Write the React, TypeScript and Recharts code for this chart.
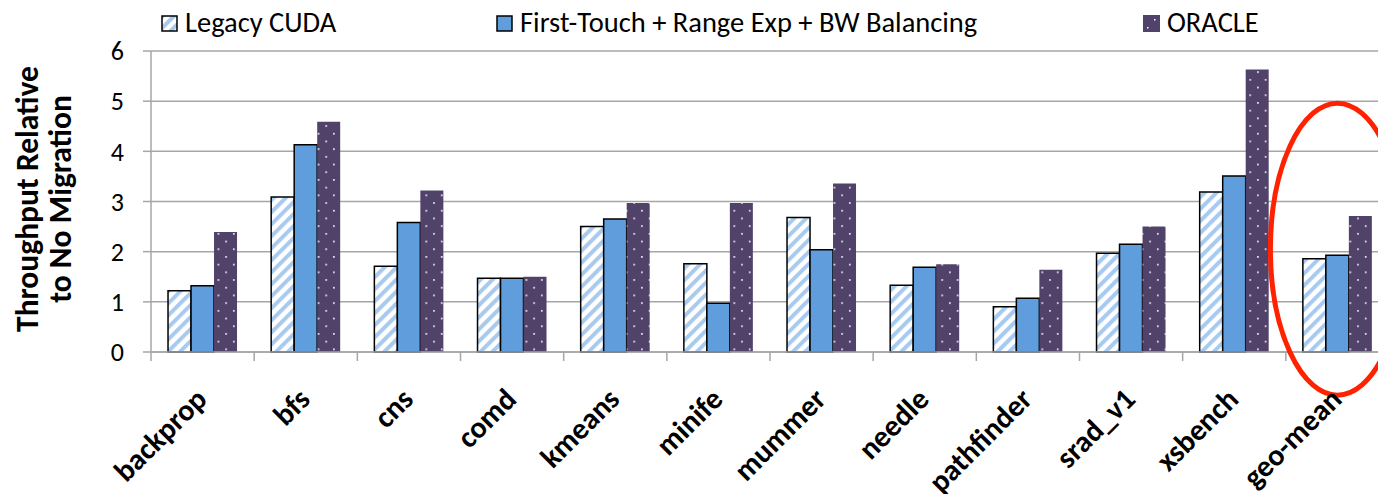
import React from 'react';
import { BarChart, Bar, XAxis, YAxis, CartesianGrid, Legend, ReferenceDot } from 'recharts';

const categories = ['backprop', 'bfs', 'cns', 'comd', 'kmeans', 'minife', 'mummer', 'needle', 'pathfinder', 'srad_v1', 'xsbench', 'geo-mean'];
const legacyCuda = [1.22, 3.09, 1.71, 1.47, 2.50, 1.76, 2.68, 1.33, 0.90, 1.97, 3.19, 1.86];
const firstTouch = [1.32, 4.13, 2.58, 1.47, 2.65, 0.97, 2.04, 1.69, 1.07, 2.15, 3.51, 1.93];
const oracle = [2.39, 4.59, 3.22, 1.50, 2.97, 2.97, 3.36, 1.75, 1.64, 2.50, 5.63, 2.71];
const yTicks = [0, 1, 2, 3, 4, 5, 6];
const seriesNames = ['Legacy CUDA', 'First-Touch + Range Exp + BW Balancing', 'ORACLE'];
const highlightCategory = 'geo-mean';
const highlightValue = 2.05;

const data = categories.map((c, i) => ({
  name: c,
  legacy: legacyCuda[i],
  first: firstTouch[i],
  oracle: oracle[i],
}));

const W = 1378;
const H = 494;
const LEFT = 151;
const RIGHT = -11;
const FONT = 'Carlito, "Open Sans", sans-serif';
const BLUE = '#5f9ddc';
const STRIPE = '#a8caee';
const PURPLE = '#51426a';
const GRID = '#a6a6a6';
const bandHalf = (W - LEFT - RIGHT) / categories.length / 2;

const XTick = (props: any) => {
  const { x, y, payload, index } = props;
  return (
    <g>
      <line x1={x - bandHalf} x2={x - bandHalf} y1={y} y2={y + 9} stroke={GRID} strokeWidth={1.5} />
      {index === categories.length - 1 && (
        <line x1={x + bandHalf} x2={x + bandHalf} y1={y} y2={y + 9} stroke={GRID} strokeWidth={1.5} />
      )}
      <text
        x={x + 6}
        y={y + 49}
        textAnchor="end"
        transform={`rotate(-45, ${x + 6}, ${y + 49})`}
        fontFamily={FONT}
        fontWeight="bold"
        fontSize={30}
        fill="#000"
      >
        {payload.value}
      </text>
    </g>
  );
};

const LegendContent = () => {
  const items = [
    { left: 161, name: seriesNames[0], kind: 'legacy' },
    { left: 496, name: seriesNames[1], kind: 'first' },
    { left: 1143, name: seriesNames[2], kind: 'oracle' },
  ];
  return (
    <div style={{ position: 'relative', width: W, height: 44 }}>
      {items.map((it) => (
        <div
          key={it.name}
          style={{ position: 'absolute', left: it.left, top: 5, display: 'flex', alignItems: 'center', fontFamily: FONT, fontSize: 28.5, color: '#000', whiteSpace: 'nowrap', lineHeight: '36px' }}
        >
          <svg width={17} height={17} style={{ marginRight: 7 }}>
            <defs>
              <pattern id="lgStripe" patternUnits="userSpaceOnUse" width="8" height="8" patternTransform="rotate(45)">
                <rect x="0" y="0" width="8" height="8" fill="#fff" />
                <rect x="0" y="0" width="4" height="8" fill={STRIPE} />
              </pattern>
            </defs>
            {it.kind === 'legacy' && <rect x={1} y={1} width={15} height={15} fill="url(#lgStripe)" stroke="#000" strokeWidth={1.5} />}
            {it.kind === 'first' && <rect x={1} y={1} width={15} height={15} fill={BLUE} stroke="#000" strokeWidth={1.5} />}
            {it.kind === 'oracle' && (
              <g>
                <rect x={0} y={0} width={17} height={17} fill={PURPLE} />
                <rect x={11} y={4} width={1.5} height={1.5} fill="#fff" />
                <rect x={4} y={12} width={1.5} height={1.5} fill="#fff" />
              </g>
            )}
          </svg>
          <span>{it.name}</span>
        </div>
      ))}
    </div>
  );
};

const Ellipse = (props: any) => {
  const { cx, cy } = props;
  return <ellipse cx={cx} cy={cy} rx={67} ry={146} fill="none" stroke="#ff2200" strokeWidth={5} />;
};

export default function App() {
  return (
    <div style={{ position: 'absolute', left: 0, top: 0, width: W, height: H, background: '#fff', overflow: 'hidden' }}>
      <BarChart
        width={W}
        height={H}
        data={data}
        margin={{ top: 51, right: RIGHT, bottom: 0, left: 0 }}
        barCategoryGap="16.5%"
        barGap={0}
        style={{ overflow: 'visible' }}
      >
        <defs>
          <pattern id="stripe" patternUnits="userSpaceOnUse" width="8.5" height="8.5" patternTransform="rotate(45)">
            <rect x="0" y="0" width="8.5" height="8.5" fill="#fff" />
            <rect x="0" y="0" width="4" height="8.5" fill={STRIPE} />
          </pattern>
          <pattern id="dots" patternUnits="userSpaceOnUse" width="15.4" height="15.4">
            <rect x="0" y="0" width="15.4" height="15.4" fill={PURPLE} />
            <rect x="2" y="2" width="1.6" height="1.6" fill="#fff" />
            <rect x="9.7" y="9.7" width="1.6" height="1.6" fill="#fff" />
          </pattern>
        </defs>
        <CartesianGrid horizontal vertical={false} stroke={GRID} strokeWidth={1.5} />
        <Legend layout="horizontal" verticalAlign="middle" align="center" wrapperStyle={{ top: 0, left: 0, width: W }} content={<LegendContent />} />
        <XAxis
          dataKey="name"
          interval={0}
          tickLine={false}
          tickSize={0}
          tickMargin={0}
          axisLine={{ stroke: GRID, strokeWidth: 1.5 }}
          tick={<XTick />}
          height={142}
        />
        <YAxis
          domain={[0, 6]}
          ticks={yTicks}
          width={LEFT}
          interval={0}
          tickSize={8}
          tickMargin={19}
          tickLine={{ stroke: GRID, strokeWidth: 1.5 }}
          axisLine={{ stroke: GRID, strokeWidth: 1.5 }}
          tick={{ fontFamily: FONT, fontSize: 26, fill: '#000' }}
          label={(
            <g>
              <text transform="translate(38, 199) rotate(-90)" textAnchor="middle" fontFamily={FONT} fontWeight="bold" fontSize={31.5} fill="#000">Throughput Relative</text>
              <text transform="translate(71, 199) rotate(-90)" textAnchor="middle" fontFamily={FONT} fontWeight="bold" fontSize={31.5} fill="#000">to No Migration</text>
            </g>
          ) as any}
        />
        <Bar dataKey="legacy" name={seriesNames[0]} fill="url(#stripe)" stroke="#000" strokeWidth={1.5} isAnimationActive={false} />
        <Bar dataKey="first" name={seriesNames[1]} fill={BLUE} stroke="#000" strokeWidth={1.5} isAnimationActive={false} />
        <Bar dataKey="oracle" name={seriesNames[2]} fill="url(#dots)" isAnimationActive={false} />
        <ReferenceDot x={highlightCategory} y={highlightValue} ifOverflow="visible" shape={<Ellipse />} />
      </BarChart>
    </div>
  );
}
